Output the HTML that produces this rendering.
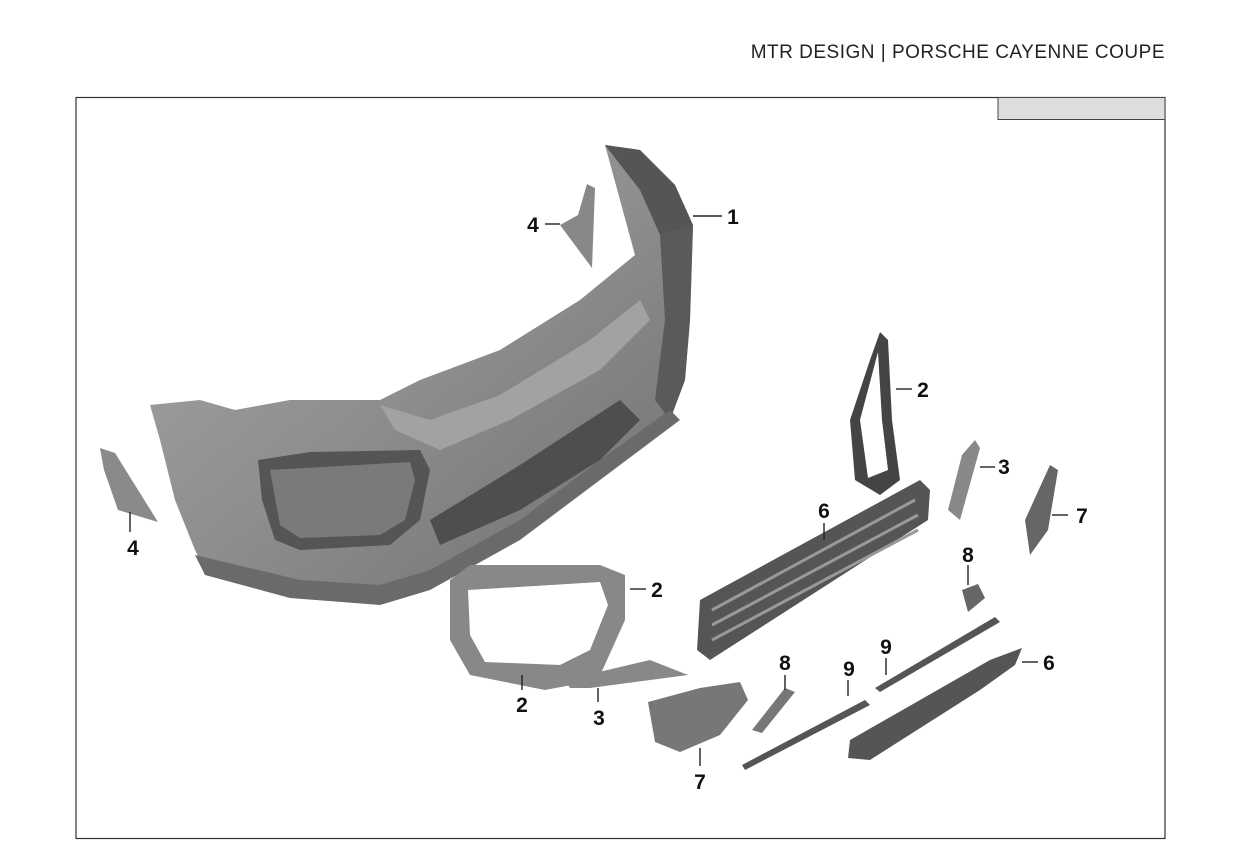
<!DOCTYPE html>
<html><head><meta charset="utf-8"><style>
html,body{margin:0;padding:0;background:#fff}
svg{display:block}
text{font-family:"Liberation Sans",sans-serif}
</style></head><body>
<svg width="1241" height="862" viewBox="0 0 1241 862" xmlns="http://www.w3.org/2000/svg">
<text x="1165" y="58" text-anchor="end" font-size="19" fill="#222" letter-spacing="0.5">MTR DESIGN | PORSCHE CAYENNE COUPE</text>
<rect x="76" y="97.5" width="1089" height="741" fill="none" stroke="#333" stroke-width="1.2"/>
<rect x="998" y="97.5" width="167" height="22" fill="#ddd" stroke="#444" stroke-width="1"/>

<!-- main bumper -->
<defs>
<linearGradient id="g1" x1="0" y1="0" x2="1" y2="1">
<stop offset="0" stop-color="#a8a8a8"/><stop offset="0.5" stop-color="#8e8e8e"/><stop offset="1" stop-color="#6e6e6e"/>
</linearGradient>
</defs>
<path d="M150,405 L200,400 L235,410 L290,400 L380,400 L420,380 L500,350 L580,300 L635,255 L605,145 L640,150 L675,185 L693,225 L690,320 L685,380 L670,420 L600,470 L520,530 L430,580 L380,597 L300,592 L205,570 L195,550 L175,500 L160,440 Z" fill="url(#g1)"/>
<path d="M605,145 L640,150 L675,185 L693,225 L660,235 L640,190 Z" fill="#555"/>
<path d="M660,235 L693,225 L690,320 L685,380 L670,420 L655,400 L665,320 Z" fill="#5a5a5a"/>
<path d="M195,555 L300,580 L380,585 L430,570 L520,520 L600,460 L670,410 L680,420 L600,480 L520,540 L430,590 L380,605 L290,598 L205,575 Z" fill="#6a6a6a"/>
<!-- left intake -->
<path d="M258,460 L310,452 L420,450 L430,470 L420,520 L390,545 L300,550 L275,540 L262,500 Z" fill="#555"/>
<path d="M270,470 L410,462 L415,480 L405,520 L380,535 L300,538 L280,525 Z" fill="#7a7a7a"/>
<!-- central intake -->
<path d="M430,520 L520,465 L620,400 L640,420 L600,460 L520,510 L440,545 Z" fill="#4e4e4e"/>
<path d="M380,405 L430,420 L500,395 L590,340 L640,300 L650,320 L600,370 L510,420 L440,450 L395,430 Z" fill="#a2a2a2"/>

<!-- part 4 top -->
<path d="M587,184 L595,188 L592,268 L560,225 L578,215 Z" fill="#888"/>
<!-- part 4 left -->
<path d="M100,448 L115,453 L158,522 L118,510 L104,470 Z" fill="#8a8a8a"/>

<!-- part 2 upper ring -->
<path d="M880,332 L888,340 L892,420 L900,480 L880,495 L855,480 L850,420 L870,360 Z" fill="#444"/>
<path d="M878,352 L882,420 L888,470 L868,478 L860,420 Z" fill="#fff"/>
<!-- part 2 lower ring -->
<path d="M450,580 L470,565 L600,565 L625,575 L625,620 L598,680 L545,690 L470,675 L450,640 Z" fill="#888"/>
<path d="M468,590 L600,582 L608,605 L590,650 L560,665 L485,662 L470,635 Z" fill="#fff"/>
<!-- part 3 -->
<path d="M975,440 L980,448 L960,520 L948,510 L962,455 Z" fill="#888"/>
<path d="M565,680 L650,660 L688,675 L590,688 L570,688 Z" fill="#888"/>
<!-- part 6 grille -->
<path d="M700,600 L920,480 L930,490 L928,520 L710,660 L697,650 Z" fill="#555"/>
<g stroke="#999" stroke-width="3">
<line x1="712" y1="610" x2="915" y2="500"/><line x1="712" y1="625" x2="918" y2="515"/><line x1="712" y1="640" x2="918" y2="530"/>
</g>
<!-- part 6 lower -->
<path d="M850,740 L990,660 L1022,648 L1015,665 L980,690 L870,760 L848,758 Z" fill="#555"/>
<!-- part 7 -->
<path d="M1050,465 L1058,470 L1048,530 L1030,555 L1025,520 Z" fill="#666"/>
<path d="M648,702 L700,688 L740,682 L748,700 L720,735 L680,752 L655,742 Z" fill="#777"/>
<!-- part 8 -->
<path d="M962,590 L978,584 L985,598 L968,612 Z" fill="#666"/>
<path d="M752,730 L785,688 L795,692 L762,733 Z" fill="#777"/>
<!-- part 9 -->
<path d="M875,688 L995,617 L1000,622 L880,692 Z" fill="#555"/>
<path d="M742,765 L865,700 L870,705 L745,770 Z" fill="#555"/>

<g stroke="#222" stroke-width="1.4">
<line x1="693" y1="216" x2="722" y2="216"/>
<line x1="545" y1="224" x2="560" y2="224"/>
<line x1="130" y1="512" x2="130" y2="532"/>
<line x1="896" y1="389" x2="912" y2="389"/>
<line x1="980" y1="467" x2="995" y2="467"/>
<line x1="1052" y1="515" x2="1068" y2="515"/>
<line x1="824" y1="523" x2="824" y2="540"/>
<line x1="968" y1="565" x2="968" y2="585"/>
<line x1="630" y1="589" x2="646" y2="589"/>
<line x1="522" y1="675" x2="522" y2="690"/>
<line x1="598" y1="688" x2="598" y2="702"/>
<line x1="1022" y1="662" x2="1038" y2="662"/>
<line x1="785" y1="675" x2="785" y2="690"/>
<line x1="848" y1="680" x2="848" y2="696"/>
<line x1="886" y1="658" x2="886" y2="675"/>
<line x1="700" y1="748" x2="700" y2="766"/>
</g>
<g font-size="21" font-weight="bold" fill="#111" text-anchor="middle">
<text x="733" y="224">1</text>
<text x="533" y="232">4</text>
<text x="133" y="555">4</text>
<text x="923" y="397">2</text>
<text x="1004" y="474">3</text>
<text x="1082" y="523">7</text>
<text x="824" y="518">6</text>
<text x="968" y="562">8</text>
<text x="657" y="597">2</text>
<text x="522" y="712">2</text>
<text x="599" y="725">3</text>
<text x="1049" y="670">6</text>
<text x="785" y="670">8</text>
<text x="849" y="676">9</text>
<text x="886" y="654">9</text>
<text x="700" y="789">7</text>
</g>
</svg>
</body></html>
